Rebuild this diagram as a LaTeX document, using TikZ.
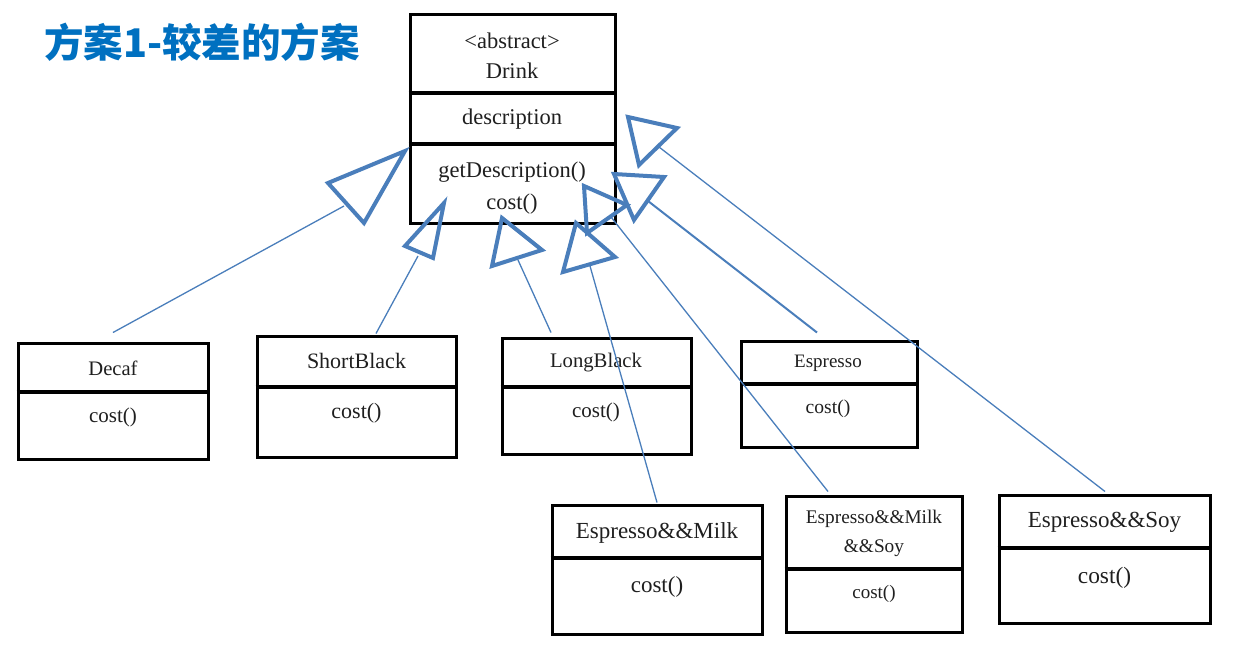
\documentclass[tikz,border=0pt]{standalone}
\usepackage{fontspec}
\setmainfont{Liberation Serif}
\newfontfamily\cjk{Noto Sans CJK SC}
\definecolor{lineblue}{RGB}{74,126,187}
\definecolor{titleblue}{RGB}{0,112,192}
\begin{document}
\begin{tikzpicture}[x=1pt,y=-1pt,
  box/.style={draw=black, line width=3pt, inner sep=0pt},
  divider/.style={draw=black, line width=3.5pt},
  lbl/.style={inner sep=0pt, text=black!88, font=\fontsize{#1}{#1}\selectfont},
  conn/.style={draw=lineblue, line width=1.3pt},
  tri/.style={draw=lineblue, line width=4pt, line join=miter}]
\useasboundingbox (0,0) rectangle (1237,653);

% title
\node[anchor=west, inner sep=0pt, text=titleblue, font=\cjk\bfseries\fontsize{39.5}{40}\selectfont] (title) at (44,42) {方案1-较差的方案};

% Drink
\node[box, minimum width=205pt, minimum height=209pt] (drink) at (512.5,118.5) {};
\draw[divider] (drink.west |- 0,93) -- (drink.east |- 0,93);
\draw[divider] (drink.west |- 0,144) -- (drink.east |- 0,144);
\node[lbl=22.5] (drink-st) at (512,41) {<abstract>};
\node[lbl=22.5] (drink-name) at (512,71) {Drink};
\node[lbl=22.5] (drink-attr) at (512,119) {description};
\node[lbl=22.5] (drink-m1) at (512,172) {getDescription()};
\node[lbl=22.5] (drink-m2) at (512,204) {cost()};

% Decaf
\node[box, minimum width=190pt, minimum height=116pt] (decaf) at (113,401) {};
\draw[divider] (decaf.west |- 0,392) -- (decaf.east |- 0,392);
\node[lbl=20.6] (decaf-name) at (113,368) {Decaf};
\node[lbl=21] (decaf-m) at (113,417) {cost()};

% ShortBlack
\node[box, minimum width=199pt, minimum height=121pt] (shortblack) at (356.5,396.5) {};
\draw[divider] (shortblack.west |- 0,387) -- (shortblack.east |- 0,387);
\node[lbl=22] (shortblack-name) at (356.5,361) {ShortBlack};
\node[lbl=22] (shortblack-m) at (356.5,413) {cost()};

% LongBlack
\node[box, minimum width=189pt, minimum height=116pt] (longblack) at (596.5,396) {};
\draw[divider] (longblack.west |- 0,387) -- (longblack.east |- 0,387);
\node[lbl=20.7] (longblack-name) at (596,363) {LongBlack};
\node[lbl=21] (longblack-m) at (596,412) {cost()};

% Espresso
\node[box, minimum width=176pt, minimum height=106pt] (espresso) at (829,394) {};
\draw[divider] (espresso.west |- 0,384) -- (espresso.east |- 0,384);
\node[lbl=19] (espresso-name) at (828,363) {Espresso};
\node[lbl=19.6] (espresso-m) at (828,409) {cost()};

% Espresso&&Milk
\node[box, minimum width=210pt, minimum height=129pt] (em) at (657,569.5) {};
\draw[divider] (em.west |- 0,558) -- (em.east |- 0,558);
\node[lbl=23] (em-name) at (657,533) {Espresso\&\&Milk};
\node[lbl=23] (em-m) at (657,587) {cost()};

% Espresso&&Milk&&Soy
\node[box, minimum width=176pt, minimum height=136pt] (ems) at (874,564) {};
\draw[divider] (ems.west |- 0,569) -- (ems.east |- 0,569);
\node[lbl=19.3] (ems-name1) at (874,519) {Espresso\&\&Milk};
\node[lbl=19.3] (ems-name2) at (874,548) {\&\&Soy};
\node[lbl=19] (ems-m) at (874,594) {cost()};

% Espresso&&Soy
\node[box, minimum width=211pt, minimum height=128pt] (es) at (1104.5,559) {};
\draw[divider] (es.west |- 0,548) -- (es.east |- 0,548);
\node[lbl=23] (es-name) at (1104.5,522) {Espresso\&\&Soy};
\node[lbl=23.4] (es-m) at (1104.5,578) {cost()};

% connector ends at the arrowheads
\coordinate (decaf-b) at (344,206);
\coordinate (shortblack-b) at (418,256);
\coordinate (longblack-b) at (518,260);
\coordinate (em-b) at (590,266);
\coordinate (ems-b) at (611,217);
\coordinate (espresso-b) at (648,201);
\coordinate (es-b) at (659,147);

% connectors
\draw[conn] ([yshift=9pt]decaf.north) -- (decaf-b);
\draw[conn] ([xshift=19.5pt,yshift=1pt]shortblack.north) -- (shortblack-b);
\draw[conn] ([xshift=-45.5pt,yshift=4pt]longblack.north) -- (longblack-b);
\draw[conn, line width=2pt] ([xshift=-12pt,yshift=7pt]espresso.north) -- (espresso-b);
\draw[conn] ([yshift=1pt]em.north) -- (em-b);
\draw[conn] ([xshift=-46pt,yshift=3pt]ems.north) -- (ems-b);
\draw[conn] ([xshift=0.5pt,yshift=2pt]es.north) -- (es-b);

% arrowheads (open triangles)
\draw[tri] (405,151) -- (328,183) -- (364,223) -- cycle;
\draw[tri] (444,203) -- (405,246) -- (433,258) -- cycle;
\draw[tri] (502,218) -- (492,266) -- (542,250) -- cycle;
\draw[tri] (576,223) -- (563,272) -- (615,257) -- cycle;
\draw[tri] (584,186) -- (587,233) -- (627,205) -- cycle;
\draw[tri] (614,174) -- (664,177) -- (634,220) -- cycle;
\draw[tri] (628,117) -- (677,128) -- (639,165) -- cycle;
\end{tikzpicture}
\end{document}
